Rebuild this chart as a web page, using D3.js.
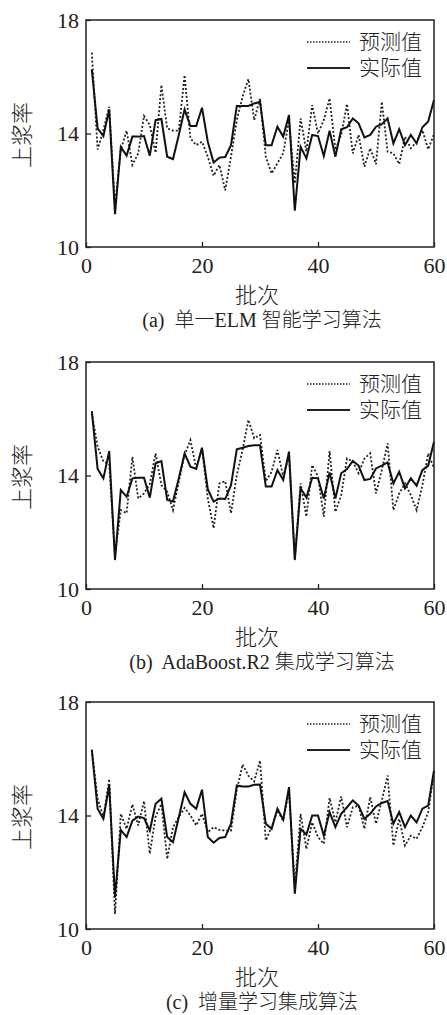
<!DOCTYPE html>
<html>
<head>
<meta charset="utf-8">
<script src="https://cdn.jsdelivr.net/npm/d3@7"></script>
<style>
  body { margin: 0; background: #fff; }
  svg text { font-family: "Liberation Serif", "Noto Sans CJK SC", serif; fill: #222; }
  svg text.cjk { font-weight: 300; }
</style>
</head>
<body>
<div id="chart"></div>
<script>
// --- Données ---
const batches = d3.range(1, 61);
const xTicks = [0, 20, 40, 60];
const yTicks = [10, 14, 18];
const legendLabels = ["预测值", "实际值"];
const captions = ["(a)  单一ELM 智能学习算法", "(b)  AdaBoost.R2 集成学习算法", "(c)  增量学习集成算法"];

const elmPred = [16.85, 13.44, 14.12, 14.94, 11.42, 13.42, 14.10, 12.89, 13.30, 14.62, 14.30, 13.32, 15.71, 14.18, 14.10, 14.10, 16.06, 13.83, 13.59, 13.71,
  13.18, 12.51, 12.89, 12.00, 13.18, 14.47, 15.30, 15.92, 14.47, 15.24, 13.18, 12.59, 12.95, 13.30, 14.47, 12.24, 14.53, 13.36, 15.00, 14.00,
  14.47, 15.24, 13.42, 13.95, 15.04, 13.30, 13.95, 12.83, 13.48, 12.92, 15.12, 13.36, 13.30, 12.92, 13.89, 13.48, 13.71, 14.12, 13.44, 13.98];
const elmActual = [16.26, 14.18, 13.91, 14.85, 11.16, 13.53, 13.22, 13.89, 13.89, 13.91, 13.22, 14.47, 14.51, 13.18, 13.10, 13.95, 14.85, 14.26, 14.26, 14.91,
  13.71, 12.98, 13.15, 13.17, 13.59, 14.97, 14.97, 14.97, 15.06, 15.12, 13.59, 13.59, 14.24, 13.89, 14.65, 11.28, 13.53, 13.12, 13.95, 13.91,
  13.21, 14.10, 13.18, 14.15, 14.22, 14.53, 14.36, 13.86, 13.95, 14.24, 14.33, 14.53, 13.65, 14.15, 13.59, 13.95, 13.65, 14.22, 14.42, 15.18];

const adaPred = [16.20, 15.02, 14.49, 14.40, 11.20, 12.78, 12.67, 14.66, 13.19, 13.37, 13.70, 14.78, 13.66, 13.43, 12.78, 13.78, 14.72, 15.25, 14.25, 14.96,
  13.19, 12.14, 13.72, 13.80, 12.67, 14.02, 14.90, 15.96, 15.31, 15.43, 13.80, 14.13, 14.90, 13.96, 14.72, 11.08, 13.72, 12.55, 14.37, 13.96,
  12.55, 14.86, 12.72, 13.31, 14.60, 14.49, 14.08, 14.60, 14.78, 13.37, 14.19, 15.13, 12.78, 13.37, 13.72, 13.31, 12.78, 13.66, 14.78, 14.25];
const adaActual = [16.27, 14.23, 13.90, 14.86, 11.02, 13.49, 13.25, 13.90, 13.92, 13.92, 13.22, 14.43, 14.51, 13.14, 13.08, 13.90, 14.78, 14.31, 14.23, 14.98,
  13.52, 13.08, 13.19, 13.17, 13.66, 14.92, 14.98, 15.04, 15.07, 15.07, 13.61, 13.61, 14.19, 13.84, 14.84, 11.02, 13.55, 13.22, 13.92, 13.90,
  13.19, 14.11, 13.19, 14.08, 14.23, 14.51, 14.35, 13.84, 13.88, 14.25, 14.35, 14.46, 13.72, 14.13, 13.55, 13.90, 13.64, 14.19, 14.35, 15.19];

const incPred = [16.30, 14.60, 13.94, 15.29, 10.53, 14.06, 13.53, 14.39, 13.65, 14.51, 12.65, 13.96, 14.41, 12.47, 13.59, 13.94, 14.27, 14.00, 13.65, 14.06,
  13.41, 13.59, 13.49, 13.47, 13.47, 14.90, 15.80, 15.40, 15.20, 15.94, 13.12, 13.59, 14.18, 13.82, 14.88, 11.47, 14.06, 12.82, 13.76, 13.24,
  13.00, 14.62, 13.76, 14.67, 13.59, 14.29, 14.35, 13.53, 14.65, 13.71, 14.53, 15.41, 12.94, 13.88, 12.94, 13.29, 13.18, 13.59, 14.12, 15.53];
const incActual = [16.32, 14.24, 13.88, 15.06, 11.12, 13.49, 13.24, 13.82, 13.96, 13.91, 13.47, 14.41, 14.59, 13.24, 13.06, 13.94, 14.82, 14.41, 14.24, 14.91,
  13.24, 13.04, 13.21, 13.24, 13.71, 15.06, 15.02, 15.02, 15.08, 15.09, 13.71, 13.53, 14.24, 13.85, 15.00, 11.24, 13.53, 13.33, 14.00, 14.00,
  13.29, 14.12, 13.59, 14.06, 14.29, 14.53, 14.35, 13.88, 14.06, 14.32, 14.44, 14.51, 13.71, 14.12, 13.59, 14.00, 13.76, 14.24, 14.35, 15.59];

const panels = [
  { pred: elmPred, actual: elmActual, caption: captions[0] },
  { pred: adaPred, actual: adaActual, caption: captions[1] },
  { pred: incPred, actual: incActual, caption: captions[2] }
];

// --- Dimensions ---
const width = 447;
const height = 1015;
const left = 86;
const right = 434;
const plotH = 227;
const tops = [20, 362, 702];

const svg = d3
  .select("#chart")
  .append("svg")
  .attr("width", width)
  .attr("height", height);

const x = d3.scaleLinear().domain([0, 60]).range([left, right]);

panels.forEach((p, k) => {
  const top = tops[k];
  const bottom = top + plotH;
  const y = d3.scaleLinear().domain([10, 18]).range([bottom, top]);
  const g = svg.append("g");

  // --- Axes (ticks vers l'intérieur) ---
  const ax = g
    .append("g")
    .attr("transform", `translate(0,${bottom})`)
    .call(d3.axisBottom(x).tickValues(xTicks).tickSize(-5).tickPadding(10));
  const ay = g
    .append("g")
    .attr("transform", `translate(${left},0)`)
    .call(d3.axisLeft(y).tickValues(yTicks).tickSize(-5).tickPadding(7));
  [ax, ay].forEach((a) => {
    a.select(".domain").remove();
    a.selectAll("line").attr("stroke", "#222").attr("stroke-width", 1.3);
    a.selectAll("text").style("font-size", "22px").attr("fill", "#222");
  });

  // --- Courbes ---
  const line = (vals) =>
    d3.line().x((d, i) => x(batches[i])).y((d) => y(d))(vals);

  g.append("path")
    .attr("d", line(p.pred))
    .attr("fill", "none")
    .attr("stroke", "#222")
    .attr("stroke-width", 1.8)
    .attr("stroke-dasharray", "2,2");

  g.append("path")
    .attr("d", line(p.actual))
    .attr("fill", "none")
    .attr("stroke", "#111")
    .attr("stroke-width", 2)
    .attr("stroke-linejoin", "miter");

  // --- Cadre ---
  g.append("rect")
    .attr("x", left)
    .attr("y", top)
    .attr("width", right - left)
    .attr("height", plotH)
    .attr("fill", "none")
    .attr("stroke", "#222")
    .attr("stroke-width", 1.5);

  // --- Légende ---
  legendLabels.forEach((lab, i) => {
    const ly = top + 22 + i * 26;
    g.append("line")
      .attr("x1", 307)
      .attr("x2", 350)
      .attr("y1", ly)
      .attr("y2", ly)
      .attr("stroke", "#222")
      .attr("stroke-width", i === 0 ? 1.5 : 2)
      .attr("stroke-dasharray", i === 0 ? "1.5,1.5" : null);
    g.append("text")
      .attr("class", "cjk")
      .attr("x", 359)
      .attr("y", ly)
      .attr("dy", "0.35em")
      .style("font-size", "21px")
      .attr("fill", "#555")
      .text(lab);
  });

  // --- Titres ---
  g.append("text")
    .attr("class", "cjk")
    .attr("transform", `translate(22,${top + 115}) rotate(-90)`)
    .attr("text-anchor", "middle")
    .attr("dy", "0.35em")
    .style("font-size", "22px")
    .attr("fill", "#444")
    .text("上浆率");

  g.append("text")
    .attr("class", "cjk")
    .attr("x", 257)
    .attr("y", bottom + 48)
    .attr("text-anchor", "middle")
    .attr("dy", "0.35em")
    .style("font-size", "22px")
    .attr("fill", "#444")
    .text("批次");

  g.append("text")
    .attr("class", "cjk")
    .attr("x", 262)
    .attr("y", bottom + 73)
    .attr("text-anchor", "middle")
    .attr("dy", "0.35em")
    .style("font-size", "20px")
    .style("white-space", "pre")
    .attr("fill", "#333")
    .text(p.caption);
});
</script>
</body>
</html>
